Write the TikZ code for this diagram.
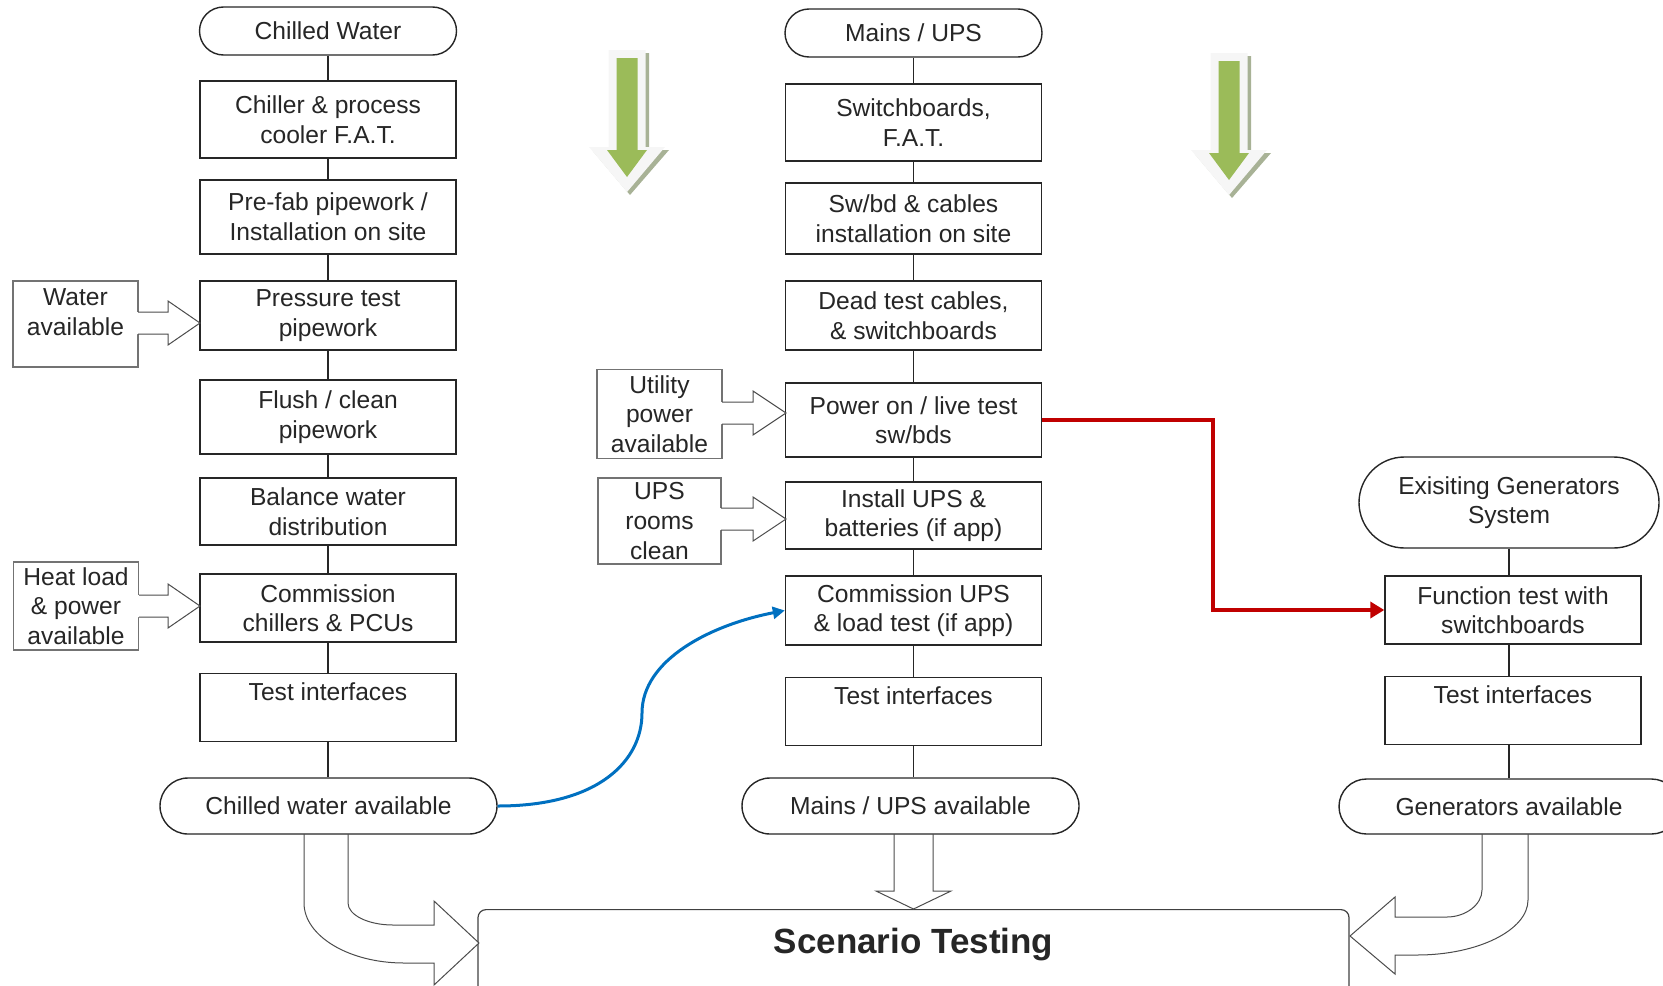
\documentclass[tikz,border=0pt]{standalone}
\usepackage{fontspec}
\setmainfont{Liberation Sans}
\usetikzlibrary{shapes.misc, arrows.meta}
\definecolor{leafgreen}{HTML}{9BBB59}
\definecolor{leafshade}{RGB}{168,178,150}
\definecolor{flowred}{HTML}{C00000}
\definecolor{flowblue}{HTML}{0070C0}

\begin{document}
\begin{tikzpicture}[x=0.5pt, y=-0.5pt, >={Triangle[length=7pt, width=8pt]},
    every node/.style={font=\fontsize{12.3}{14.8}\selectfont, text=black!85},
    box/.style={draw=black!85, line width=0.7pt, fill=white, align=center, inner sep=0pt, minimum width=128pt},
    topbox/.style={box, anchor=north, text height=13.5pt, text depth=20.5pt},
    term/.style={box, rounded rectangle},
    inbox/.style={box, draw=black!55, line width=0.9pt},
    link/.style={draw=black!85, line width=0.6pt},
    barrow/.style={draw=black!70, line width=0.5pt}]
    \useasboundingbox (0,0) rectangle (1663,985);

    % 1. chilled water column
    \node[term, minimum width=128.5pt, minimum height=24pt] (cw) at (328,31) {Chilled Water};
    \node[box, minimum height=38.5pt] (l1) at (328,119.5) {Chiller \& process\\cooler F.A.T.};
    \node[box, minimum height=37pt] (l2) at (328,217) {Pre-fab pipework /\\Installation on site};
    \node[box, minimum height=34.5pt] (l3) at (328,315.5) {Pressure test\\pipework};
    \node[box, minimum height=37pt] (l4) at (328,417) {Flush / clean\\pipework};
    \node[box, minimum height=33.5pt] (l5) at (328,511.5) {Balance water\\distribution};
    \node[box, minimum height=34pt] (l6) at (328,608) {Commission\\chillers \& PCUs};
    \node[topbox] (l7) at (328,673) {Test interfaces};
    \node[term, minimum width=168.5pt, minimum height=28pt] (cwa) at (328.5,806) {Chilled water available};
    \node[inbox, minimum width=62.5pt, text height=27pt, text depth=16pt] (wa) at (75.5,324) {Water\\available};
    \node[inbox, minimum width=62.5pt, minimum height=44pt] (hl) at (76,606) {Heat load\\\& power\\available};

    % 2. mains / UPS column
    \node[term, minimum width=128.5pt, minimum height=24pt] (mu) at (913.5,33) {Mains / UPS};
    \node[box, minimum height=38.5pt] (c1) at (913.5,122.5) {Switchboards,\\F.A.T.};
    \node[box, minimum height=35.5pt] (c2) at (913.5,218.5) {Sw/bd \& cables\\installation on site};
    \node[box, minimum height=34.5pt] (c3) at (913.5,315.5) {Dead test cables,\\\& switchboards};
    \node[box, minimum height=37pt] (c4) at (913.5,420) {Power on / live test\\sw/bds};
    \node[box, minimum height=33.5pt] (c5) at (913.5,515.5) {Install UPS \&\\batteries (if app)};
    \node[box, minimum height=34.5pt] (c6) at (913.5,610.5) {Commission UPS\\\& load test (if app)};
    \node[topbox] (c7) at (913.5,677) {Test interfaces};
    \node[term, minimum width=168.5pt, minimum height=28pt] (mua) at (910.5,806) {Mains / UPS available};
    \node[inbox, minimum width=62.5pt, minimum height=44.5pt] (up) at (659.5,414) {Utility\\power\\available};
    \node[inbox, minimum width=61.5pt, minimum height=43pt] (ur) at (659.5,521) {UPS\\rooms\\clean};

    % 3. generators column
    \node[term, minimum width=150pt, minimum height=45.5pt] (eg) at (1509,502.5) {Exisiting Generators\\System};
    \node[box, minimum height=34pt] (r1) at (1513,610) {Function test with\\switchboards};
    \node[topbox] (r2) at (1513,676) {Test interfaces};
    \node[term, minimum width=170pt, minimum height=27.5pt] (ga) at (1509,806.5) {Generators available};

    \node[draw=black!75, line width=0.6pt, rounded corners=4pt, anchor=north, minimum width=435.5pt, inner sep=0pt,
          text height=22pt, text depth=40pt, font=\bfseries\fontsize{17.5}{20}\selectfont] (st) at (913.5,909) {Scenario Testing};

    % 4. links down each column
    \draw[link] (cw.south) -- (l1.north); \draw[link] (l1) -- (l2); \draw[link] (l2) -- (l3);
    \draw[link] (l3) -- (l4); \draw[link] (l4) -- (l5); \draw[link] (l5) -- (l6); \draw[link] (l6) -- (l7);
    \draw[link] (l7.south) -- (l7.south |- cwa.north);
    \draw[link] (mu.south) -- (c1.north); \draw[link] (c1) -- (c2); \draw[link] (c2) -- (c3);
    \draw[link] (c3) -- (c4); \draw[link] (c4) -- (c5); \draw[link] (c5) -- (c6); \draw[link] (c6) -- (c7);
    \draw[link] (c7.south) -- (c7.south |- mua.north);
    \draw[link] (eg.south) -- (eg.south |- r1.north); \draw[link] (eg.south |- r1.south) -- (eg.south |- r2.north);
    \draw[link] (ga.north |- r2.south) -- (ga.north);

    % 5. block arrows feeding the columns
    \fill[white] (136,312) -- (168,312) -- (168,301) -- (200,323) -- (168,345) -- (168,334) -- (136,334) -- cycle;
    \draw[barrow] (138,312) -- (168,312) -- (168,301) -- (200,323) -- (168,345) -- (168,334) -- (138,334);
    \fill[white] (137,595) -- (168,595) -- (168,584) -- (200,606) -- (168,628) -- (168,617) -- (137,617) -- cycle;
    \draw[barrow] (139,595) -- (168,595) -- (168,584) -- (200,606) -- (168,628) -- (168,617) -- (139,617);
    \fill[white] (720,402) -- (753,402) -- (753,391) -- (786,413) -- (753,435) -- (753,424) -- (720,424) -- cycle;
    \draw[barrow] (722,402) -- (753,402) -- (753,391) -- (786,413) -- (753,435) -- (753,424) -- (722,424);
    \fill[white] (719,508) -- (753,508) -- (753,497) -- (786,519) -- (753,541) -- (753,530) -- (719,530) -- cycle;
    \draw[barrow] (721,508) -- (753,508) -- (753,497) -- (786,519) -- (753,541) -- (753,530) -- (721,530);

    % 6. block arrows into scenario testing
    \fill[white] (894,835) -- (894,891) -- (876,891) -- (913.5,909) -- (951,891) -- (933,891) -- (933,835) -- cycle;
    \draw[barrow] (894,834) -- (894,891) -- (876,891) -- (913.5,909) -- (951,891) -- (933,891) -- (933,834);
    \fill[white] (304,835) -- (304,903) .. controls (304,936) and (349,963) .. (404,963) -- (434,963) -- (434,985)
        -- (479,943) -- (434,901) -- (434,925) -- (393,925) .. controls (368,925) and (348,915) .. (348,903) -- (348,835) -- cycle;
    \draw[barrow] (304,834) -- (304,903) .. controls (304,936) and (349,963) .. (404,963) -- (434,963) -- (434,985)
        -- (479,943) -- (434,901) -- (434,925) -- (393,925) .. controls (368,925) and (348,915) .. (348,903) -- (348,834);
    \fill[white] (1482,835) -- (1482,890) .. controls (1482,905) and (1465,917) .. (1447,917) -- (1395,917) -- (1395,897)
        -- (1350,936) -- (1395,974) -- (1395,955) -- (1417,955) .. controls (1478,955) and (1528,930) .. (1528,900) -- (1528,835) -- cycle;
    \draw[barrow] (1482,834) -- (1482,890) .. controls (1482,905) and (1465,917) .. (1447,917) -- (1395,917) -- (1395,897)
        -- (1350,936) -- (1395,974) -- (1395,955) -- (1417,955) .. controls (1478,955) and (1528,930) .. (1528,900) -- (1528,834);

    % 7. cross links between columns
    \coordinate (cwbend) at (642,713);
    \draw[flowblue, line width=1.5pt, -{Triangle[length=6pt, width=6pt]}] (cwa.east) .. controls (600,806) and (642,760) .. (cwbend)
        .. controls (642,660) and (710,625) .. (c6.west);
    \draw[flowred, line width=2pt, ->] (c4.east) -- ++(171,0) |- (r1.west);

    % 8. green flow arrows
    \foreach \gx/\gy in {0/0, 602/3} {
        \begin{scope}[shift={(\gx,\gy)}]
            \fill[leafshade] (612,53) -- (649,53) -- (649,150) -- (669,150) -- (630,195) -- (592,150) -- (612,150) -- cycle;
            \fill[gray!7] (608.5,50) -- (645.5,50) -- (645.5,147) -- (665,147) -- (627,192) -- (589,147) -- (608.5,147) -- cycle;
            \fill[leafgreen] (616.5,58) -- (637.5,58) -- (637.5,150) -- (647,150) -- (627,177) -- (607,150) -- (616.5,150) -- cycle;
        \end{scope}
    }
\end{tikzpicture}
\end{document}
